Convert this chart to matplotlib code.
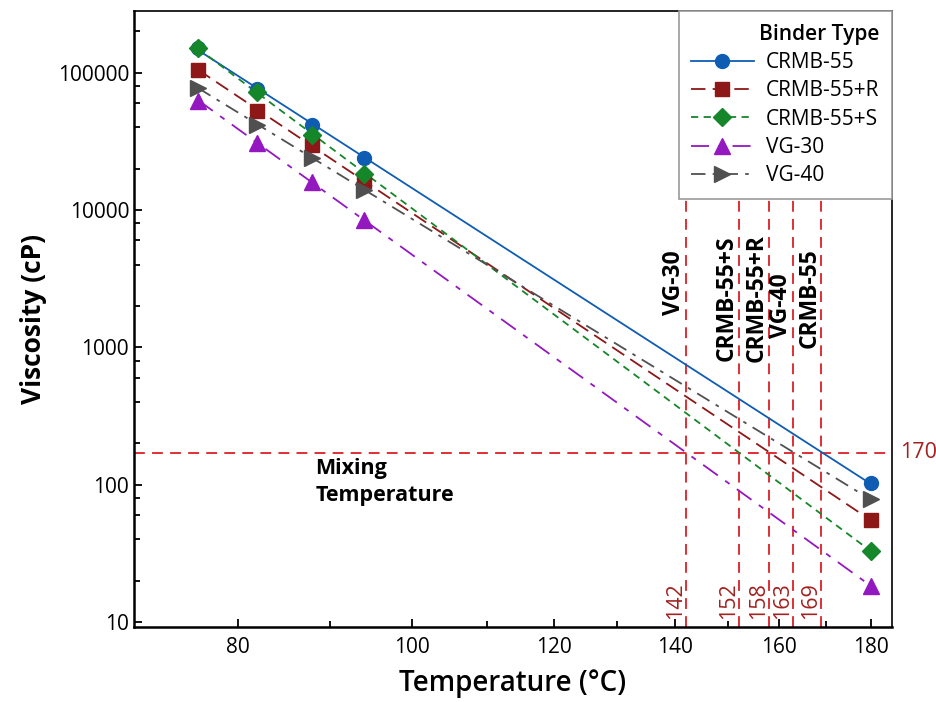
import numpy as np
import matplotlib
matplotlib.use("Agg")
import matplotlib.pyplot as plt
from matplotlib.lines import Line2D
from matplotlib.ticker import FixedLocator, NullFormatter, LogLocator

plt.rcParams['font.family'] = ['Open Sans', 'DejaVu Sans']

# data
temps = [76, 82, 88, 94, 180]
binders = ['CRMB-55', 'CRMB-55+R', 'CRMB-55+S', 'VG-30', 'VG-40']
crmb55 = [150000, 76400, 41700, 23900, 102]
crmb55_r = [105000, 52700, 29700, 16300, 55]
crmb55_s = [150000, 72300, 35400, 18400, 33]
vg30 = [62400, 30800, 15900, 8450, 18.3]
vg40 = [77700, 41900, 23900, 14000, 78]

mix_visc = 170
mix_temps = [142, 152, 158, 163, 169]
mix_names = ['VG-30', 'CRMB-55+S', 'CRMB-55+R', 'VG-40', 'CRMB-55']
name_y = [2950, 2265, 2265, 2010, 2265]

# styles
colors = ['#0F5DB3', '#8E1717', '#15862A', '#9418C0', '#505050']
styles = ['-', (0, (8, 4)), (0, (4, 3)), (0, (10, 5, 3, 5)), (0, (8, 4, 2, 4))]
markers = ['o', 's', 'D', '^', '>']
msizes = [10, 10, 9, 11, 11]
series = [crmb55, crmb55_r, crmb55_s, vg30, vg40]

fig = plt.figure(figsize=(9.37, 7.02), dpi=100)
ax = fig.add_axes([0.143, 0.107, 0.809, 0.877])
ax.set_xscale('log')
ax.set_yscale('log')

handles = []
for vals, c, ls, m, ms, name in zip(series, colors, styles, markers, msizes, binders):
    # power-law trend line in log-log space
    p = np.polyfit(np.log10(temps), np.log10(vals), 1)
    xx = np.array([temps[0], temps[-1]])
    ax.plot(xx, 10 ** np.polyval(p, np.log10(xx)), color=c, ls=ls, lw=1.3, zorder=3)
    ax.plot(temps, vals, ls='none', marker=m, ms=ms, color=c, zorder=4)
    handles.append(Line2D([], [], color=c, ls=ls, lw=1.3, marker=m, ms=ms))

# mixing temperature guides
red = '#DD1F26'
dark_red = '#A3201E'
ax.axhline(mix_visc, color=red, ls=(0, (6, 4)), lw=1.3, zorder=2)
for t, nm, yy in zip(mix_temps, mix_names, name_y):
    ax.axvline(t, color=red, ls=(0, (6, 4)), lw=1.3, zorder=2)
    ax.text(t, yy, nm, rotation=90, ha='right', va='center', fontsize=16.5,
            fontweight='bold', color='black', zorder=5)
    ax.text(t, 10.5, str(t), rotation=90, ha='right', va='bottom', fontsize=15.5,
            color=dark_red, zorder=5)

ax.text(1.01, mix_visc, '170', transform=ax.get_yaxis_transform(), ha='left',
        va='center', fontsize=15.5, color=dark_red)
ax.text(88.3, 155, 'Mixing\nTemperature', ha='left', va='top', fontsize=15.5,
        fontweight='bold', linespacing=1.35)

ax.set_xlim(70, 185)
ax.set_ylim(9.2, 280000)

ax.xaxis.set_major_locator(FixedLocator([80, 100, 120, 140, 160, 180]))
ax.xaxis.set_minor_locator(FixedLocator([90, 110, 130, 150, 170]))
ax.xaxis.set_minor_formatter(NullFormatter())
ax.set_xticklabels(['80', '100', '120', '140', '160', '180'])
ax.yaxis.set_minor_locator(LogLocator(base=10, subs=[2, 4, 6, 8], numticks=20))
ax.yaxis.set_minor_formatter(NullFormatter())
ax.set_yticks([10, 100, 1000, 10000, 100000])
ax.set_yticklabels(['10', '100', '1000', '10000', '100000'])

ax.tick_params(which='both', direction='in', labelsize=15, width=1.3)
ax.tick_params(which='major', length=6)
ax.tick_params(which='minor', length=4)
ax.tick_params(axis='x', pad=7)

for s in ['left', 'bottom']:
    ax.spines[s].set_linewidth(1.8)
for s in ['top', 'right']:
    ax.spines[s].set_linewidth(1.2)

ax.set_xlabel('Temperature (°C)', fontsize=20, fontweight='semibold', labelpad=8)
ax.set_ylabel('Viscosity (cP)', fontsize=19, fontweight='bold', labelpad=8)

leg = ax.legend(handles, binders, title='Binder Type', loc='upper right',
                borderaxespad=0, fancybox=False, framealpha=1, edgecolor='#999999',
                fontsize=15, title_fontsize=15, handlelength=3.0, handletextpad=0.6,
                labelspacing=0.35, borderpad=0.6, alignment='right')
leg.get_title().set_fontweight('semibold')
leg.get_frame().set_linewidth(1.2)
leg.set_zorder(10)

fig.savefig('out.png', dpi=100)
